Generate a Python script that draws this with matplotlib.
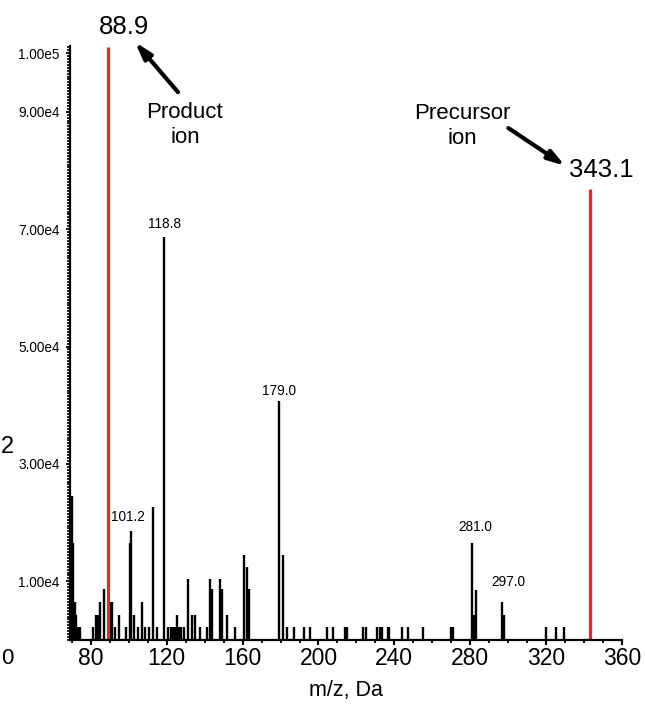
import matplotlib
matplotlib.use("Agg")
import matplotlib.pyplot as plt
from matplotlib.ticker import MultipleLocator

plt.rcParams['font.family'] = ['Liberation Sans', 'DejaVu Sans']

# ---- data ----
mz_black = [69.5, 70.2, 70.8, 71.5, 72.2, 73.0, 74.2,
            81.2, 82.6, 83.5, 84.7, 87.0, 90.0, 91.2, 92.7, 94.9, 98.5,
            100.4, 101.2, 102.9, 104.8, 107.1, 108.8, 110.6, 112.9, 114.7,
            118.8, 120.8, 122.0, 123.5, 124.3, 125.2, 126.2, 127.6, 129.2,
            131.0, 133.1, 134.9, 137.5, 141.1, 142.8, 143.7, 148.1, 149.0,
            151.6, 156.0, 160.9, 162.2, 163.5,
            179.0, 181.2, 183.3, 187.3, 192.4, 195.6, 204.4, 207.5,
            213.8, 214.8, 223.2, 225.0, 231.0, 232.2, 233.3, 236.4, 237.2,
            244.0, 247.0, 255.0, 269.6, 270.8,
            281.0, 281.8, 283.2, 297.0, 297.6, 320.0, 325.4, 329.6]
int_black = [2200, 24500, 16500, 6500, 4300, 2200, 2200,
             2200, 4300, 4300, 6500, 8700, 6500, 6500, 2200, 4300, 2200,
             16500, 18600, 4300, 2200, 6500, 2200, 2200, 22700, 2200,
             68700, 2200, 2200, 2200, 2200, 4300, 2200, 2200, 2200,
             10400, 4300, 4300, 2200, 2200, 10400, 8700, 10400, 8700,
             4300, 2200, 14400, 12400, 8700,
             40700, 14400, 2200, 2200, 2200, 2200, 2200, 2200,
             2200, 2200, 2200, 2200, 2200, 2200, 2200, 2200, 2200,
             2200, 2200, 2200, 2200, 2200,
             16600, 4300, 8600, 6500, 4300, 2200, 2200, 2200]

mz_red = [88.9, 343.1]
int_red = [101000, 76800]

peak_labels = ["101.2", "118.8", "179.0", "281.0", "297.0"]
peak_label_mz = [101.2, 118.8, 179.0, 281.0, 297.0]
peak_label_int = [18600, 68700, 40700, 16600, 6500]

ytick_vals = [10000, 30000, 50000, 70000, 90000, 100000]
ytick_labels = ["1.00e4", "3.00e4", "5.00e4", "7.00e4", "9.00e4", "1.00e5"]
xtick_vals = [80, 120, 160, 200, 240, 280, 320, 360]

# ---- figure ----
fig = plt.figure(figsize=(6.45, 7.07), dpi=100)
ax = fig.add_axes([70/645, 67/707, 552/645, 594/707])

ax.vlines(mz_black, 0, int_black, color='black', linewidth=1.7)
ax.vlines(mz_red, 0, int_red, color='#e8262b', linewidth=2.3)

ax.set_xlim(69, 360)
ax.set_ylim(0, 101200)

for s in ['top', 'right']:
    ax.spines[s].set_visible(False)
for s in ['left', 'bottom']:
    ax.spines[s].set_linewidth(1.6)

ax.set_yticks(ytick_vals)
ax.set_yticklabels(ytick_labels, fontsize=9.8)
ax.yaxis.set_minor_locator(MultipleLocator(500))
ax.set_xticks(xtick_vals)
ax.set_xticklabels([str(v) for v in xtick_vals], fontsize=16.5)
ax.xaxis.set_minor_locator(MultipleLocator(10))
ax.tick_params(axis='y', which='major', direction='out', length=3, width=1.3, pad=4.5)
ax.tick_params(axis='y', which='minor', direction='out', length=2.2, width=1.2)
ax.tick_params(axis='x', which='major', direction='out', length=3.5, width=1.5, pad=1.5)
ax.tick_params(axis='x', which='minor', direction='out', length=2.5, width=1.3)

ax.set_xlabel("m/z, Da", fontsize=15.5, labelpad=7)

# peak labels
offsets = [(-2, 5), (0, 4), (0, 2), (2, 6), (4, 9)]
for lab, x, y, off in zip(peak_labels, peak_label_mz, peak_label_int, offsets):
    ax.annotate(lab, xy=(x, y), xytext=off, textcoords='offset points',
                ha='center', va='bottom', fontsize=9.8)

# large annotations
arrow_style = dict(arrowstyle='-|>,head_length=1.0,head_width=0.3',
                   color='black', lw=3, shrinkA=0, shrinkB=0)
ax.text(97.4, 104400, "88.9", fontsize=18.5, ha='center', va='center', clip_on=False)
ax.text(129.6, 87700, "Product\nion", fontsize=16, ha='center', va='center',
        linespacing=1.25, clip_on=False)
ax.annotate("", xy=(103.2, 101900), xytext=(125.9, 93350),
            arrowprops=arrow_style, annotation_clip=False)
ax.text(275.8, 87650, "Precursor\nion", fontsize=16, ha='center', va='center',
        linespacing=1.25, clip_on=False)
ax.annotate("", xy=(330.1, 80750), xytext=(300.1, 87220),
            arrowprops=arrow_style, annotation_clip=False)
ax.text(349.1, 80070, "343.1", fontsize=18.5, ha='center', va='center', clip_on=False)

# fragments of neighbouring labels at left edge
fig.text(1/645, 1 - 447/707, "2", fontsize=17, ha='left', va='center')
fig.text(1/645, 1 - 659/707, "0", fontsize=16, ha='left', va='center')

fig.savefig("out.png", dpi=100)
